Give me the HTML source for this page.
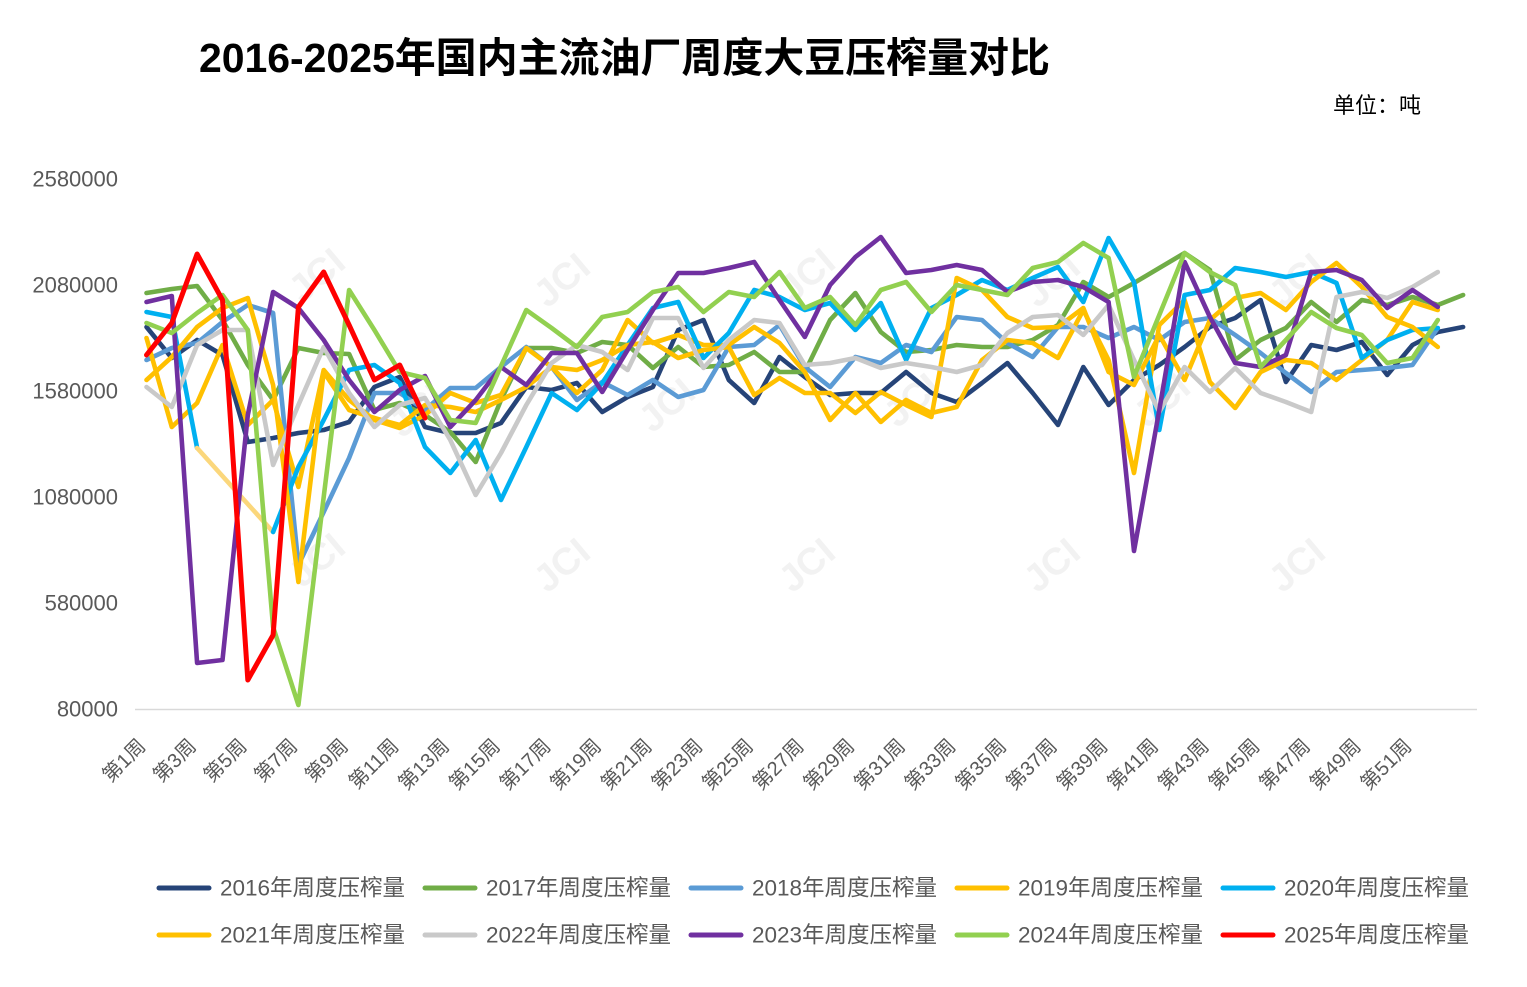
<!DOCTYPE html>
<html>
<head>
<meta charset="utf-8">
<style>
  html,body{margin:0;padding:0;background:#fff;}
  body{width:1527px;height:987px;overflow:hidden;}
  svg{display:block;}
  .t{font-family:"Liberation Sans","Noto Sans CJK SC",sans-serif;}
</style>
</head>
<body>
<svg width="1527" height="987" viewBox="0 0 1527 987" xmlns="http://www.w3.org/2000/svg">
  <rect width="1527" height="987" fill="#fff"/>

  <!-- watermarks -->
  <g class="t" font-size="38" font-weight="bold" fill="#f2f2f2" text-anchor="middle">
    <text transform="translate(325,285) rotate(-40)">JCI</text>
    <text transform="translate(570,290) rotate(-40)">JCI</text>
    <text transform="translate(815,285) rotate(-40)">JCI</text>
    <text transform="translate(1060,290) rotate(-40)">JCI</text>
    <text transform="translate(1305,290) rotate(-40)">JCI</text>
    <text transform="translate(425,420) rotate(-40)">JCI</text>
    <text transform="translate(675,415) rotate(-40)">JCI</text>
    <text transform="translate(920,410) rotate(-40)">JCI</text>
    <text transform="translate(1170,410) rotate(-40)">JCI</text>
    <text transform="translate(325,570) rotate(-40)">JCI</text>
    <text transform="translate(570,575) rotate(-40)">JCI</text>
    <text transform="translate(815,575) rotate(-40)">JCI</text>
    <text transform="translate(1060,575) rotate(-40)">JCI</text>
    <text transform="translate(1305,575) rotate(-40)">JCI</text>
  </g>

  <!-- title -->
  <text class="t" x="199" y="72" font-size="41" font-weight="bold" fill="#000" textLength="851" lengthAdjust="spacing">2016-2025年国内主流油厂周度大豆压榨量对比</text>
  <text class="t" x="1333" y="113" font-size="22" fill="#000">单位：吨</text>

  <!-- y axis labels -->
  <g class="t" font-size="22" fill="#595959" text-anchor="end" dominant-baseline="central">
    <text x="118" y="179">2580000</text>
    <text x="118" y="285">2080000</text>
    <text x="118" y="391">1580000</text>
    <text x="118" y="497">1080000</text>
    <text x="118" y="603">580000</text>
    <text x="118" y="709">80000</text>
  </g>

  <!-- axis line -->
  <line x1="135" y1="709.5" x2="1477" y2="709.5" stroke="#d9d9d9" stroke-width="1.5"/>

  <!-- x labels -->
  <g class="t" font-size="20" fill="#595959" text-anchor="end" dominant-baseline="central">
    <text transform="translate(142.5,743) rotate(-45)">第1周</text>
    <text transform="translate(193.1,743) rotate(-45)">第3周</text>
    <text transform="translate(243.8,743) rotate(-45)">第5周</text>
    <text transform="translate(294.4,743) rotate(-45)">第7周</text>
    <text transform="translate(345.1,743) rotate(-45)">第9周</text>
    <text transform="translate(395.7,743) rotate(-45)">第11周</text>
    <text transform="translate(446.3,743) rotate(-45)">第13周</text>
    <text transform="translate(497.0,743) rotate(-45)">第15周</text>
    <text transform="translate(547.6,743) rotate(-45)">第17周</text>
    <text transform="translate(598.2,743) rotate(-45)">第19周</text>
    <text transform="translate(648.9,743) rotate(-45)">第21周</text>
    <text transform="translate(699.5,743) rotate(-45)">第23周</text>
    <text transform="translate(750.2,743) rotate(-45)">第25周</text>
    <text transform="translate(800.8,743) rotate(-45)">第27周</text>
    <text transform="translate(851.4,743) rotate(-45)">第29周</text>
    <text transform="translate(902.1,743) rotate(-45)">第31周</text>
    <text transform="translate(952.7,743) rotate(-45)">第33周</text>
    <text transform="translate(1003.4,743) rotate(-45)">第35周</text>
    <text transform="translate(1054.0,743) rotate(-45)">第37周</text>
    <text transform="translate(1104.6,743) rotate(-45)">第39周</text>
    <text transform="translate(1155.3,743) rotate(-45)">第41周</text>
    <text transform="translate(1205.9,743) rotate(-45)">第43周</text>
    <text transform="translate(1256.6,743) rotate(-45)">第45周</text>
    <text transform="translate(1307.2,743) rotate(-45)">第47周</text>
    <text transform="translate(1357.8,743) rotate(-45)">第49周</text>
    <text transform="translate(1408.5,743) rotate(-45)">第51周</text>
  </g>

  <!-- series -->
  <g fill="none" stroke-width="4.6" stroke-linejoin="round" stroke-linecap="round">
    <!-- 2016 -->
    <polyline stroke="#264478" points="146.5,327 171.8,358 197.1,340 222.5,355 247.8,442 273.1,438 298.4,433 323.7,430 349.1,422 374.4,387 399.7,377 425.0,427 450.3,433 475.7,433 501.0,423 526.3,387 551.6,390 576.9,383 602.2,412 627.6,397 652.9,387 678.2,330 703.5,320 728.8,380 754.2,403 779.5,357 804.8,377 830.1,395 855.4,393 880.8,393 906.1,372 931.4,393 956.7,402 982.0,383 1007.4,363 1032.7,393 1058.0,425 1083.3,367 1108.6,405 1134.0,380 1159.3,365 1184.6,347 1209.9,327 1235.2,318 1260.6,300 1285.9,382 1311.2,345 1336.5,350 1361.8,342 1387.2,375 1412.5,345 1437.8,332 1463.1,327"/>
    <!-- 2017 -->
    <polyline stroke="#70ad47" points="146.5,293 171.8,289 197.1,286 222.5,320 247.8,365 273.1,400 298.4,348 323.7,353 349.1,354 374.4,410 399.7,403 425.0,415 450.3,432 475.7,462 501.0,400 526.3,348 551.6,348 576.9,353 602.2,342 627.6,345 652.9,368 678.2,347 703.5,367 728.8,365 754.2,352 779.5,372 804.8,372 830.1,320 855.4,293 880.8,332 906.1,352 931.4,350 956.7,345 982.0,347 1007.4,347 1032.7,340 1058.0,325 1083.3,282 1108.6,297 1134.0,283 1159.3,268 1184.6,253 1209.9,270 1235.2,360 1260.6,340 1285.9,328 1311.2,302 1336.5,322 1361.8,300 1387.2,305 1412.5,297 1437.8,305 1463.1,295"/>
    <!-- 2018 -->
    <polyline stroke="#5b9bd5" points="146.5,360 171.8,348 197.1,343 222.5,322 247.8,305 273.1,313 298.4,565 323.7,512 349.1,458 374.4,393 399.7,393 425.0,410 450.3,388 475.7,388 501.0,367 526.3,347 551.6,367 576.9,400 602.2,382 627.6,395 652.9,380 678.2,397 703.5,390 728.8,347 754.2,345 779.5,325 804.8,367 830.1,387 855.4,357 880.8,363 906.1,345 931.4,352 956.7,317 982.0,320 1007.4,343 1032.7,357 1058.0,327 1083.3,327 1108.6,338 1134.0,327 1159.3,340 1184.6,322 1209.9,318 1235.2,335 1260.6,353 1285.9,373 1311.2,392 1336.5,372 1361.8,370 1387.2,368 1412.5,365 1437.8,328"/>
    <!-- 2019 -->
    <polyline stroke="#ffc000" points="146.5,338 171.8,427 197.1,403 222.5,345 247.8,425 273.1,400 298.4,487 323.7,370 349.1,400 374.4,420 399.7,428 425.0,415 450.3,393 475.7,403 501.0,395 526.3,348 551.6,367 576.9,393 602.2,370 627.6,320 652.9,343 678.2,335 703.5,345 728.8,345 754.2,327 779.5,343 804.8,372 830.1,420 855.4,393 880.8,422 906.1,400 931.4,413 956.7,407 982.0,360 1007.4,340 1032.7,343 1058.0,358 1083.3,310 1108.6,360 1134.0,473 1159.3,325 1184.6,300 1209.9,382 1235.2,408 1260.6,372 1285.9,360 1311.2,363 1336.5,380 1361.8,360 1387.2,340 1412.5,302 1437.8,310"/>
    <!-- 2020 -->
    <polyline stroke="#00b0f0" points="146.5,312 171.8,317 197.1,448"/>
    <polyline stroke="#fbd77c" points="197.1,448 273.1,532"/>
    <polyline stroke="#00b0f0" points="273.1,532 298.4,467 323.7,420 349.1,370 374.4,365 399.7,383 425.0,447 450.3,473 475.7,440 501.0,500 526.3,447 551.6,393 576.9,410 602.2,383 627.6,345 652.9,308 678.2,302 703.5,358 728.8,333 754.2,290 779.5,297 804.8,310 830.1,303 855.4,330 880.8,303 906.1,360 931.4,308 956.7,295 982.0,280 1007.4,290 1032.7,278 1058.0,267 1083.3,302 1108.6,238 1134.0,282 1159.3,430 1184.6,295 1209.9,290 1235.2,268 1260.6,272 1285.9,277 1311.2,272 1336.5,283 1361.8,358 1387.2,340 1412.5,330 1437.8,328"/>
    <!-- 2021 -->
    <polyline stroke="#ffc000" points="146.5,380 171.8,357 197.1,327 222.5,308 247.8,298 273.1,385 298.4,582 323.7,372 349.1,410 374.4,418 399.7,425 425.0,405 450.3,407 475.7,412 501.0,400 526.3,387 551.6,367 576.9,370 602.2,360 627.6,345 652.9,342 678.2,358 703.5,350 728.8,347 754.2,395 779.5,378 804.8,393 830.1,393 855.4,413 880.8,392 906.1,405 931.4,417 956.7,278 982.0,290 1007.4,317 1032.7,328 1058.0,327 1083.3,308 1108.6,372 1134.0,385 1159.3,335 1184.6,380 1209.9,320 1235.2,298 1260.6,293 1285.9,310 1311.2,282 1336.5,263 1361.8,287 1387.2,317 1412.5,327 1437.8,347"/>
    <!-- 2022 -->
    <polyline stroke="#c9c9c9" points="146.5,387 171.8,407 197.1,345 222.5,330 247.8,330 273.1,465 298.4,405 323.7,347 349.1,393 374.4,427 399.7,405 425.0,398 450.3,440 475.7,495 501.0,453 526.3,405 551.6,363 576.9,345 602.2,352 627.6,370 652.9,318 678.2,318 703.5,368 728.8,340 754.2,320 779.5,323 804.8,365 830.1,363 855.4,358 880.8,368 906.1,363 931.4,367 956.7,372 982.0,365 1007.4,333 1032.7,317 1058.0,315 1083.3,335 1108.6,305 1134.0,360 1159.3,412 1184.6,367 1209.9,392 1235.2,368 1260.6,393 1285.9,402 1311.2,412 1336.5,297 1361.8,292 1387.2,298 1412.5,287 1437.8,272"/>
    <!-- 2023 -->
    <polyline stroke="#7030a0" points="146.5,302 171.8,296 197.1,663 222.5,660 247.8,415 273.1,292 298.4,308 323.7,340 349.1,380 374.4,412 399.7,390 425.0,376 450.3,427 475.7,400 501.0,367 526.3,385 551.6,353 576.9,353 602.2,392 627.6,350 652.9,310 678.2,273 703.5,273 728.8,268 754.2,262 779.5,300 804.8,337 830.1,285 855.4,257 880.8,237 906.1,273 931.4,270 956.7,265 982.0,270 1007.4,292 1032.7,282 1058.0,280 1083.3,287 1108.6,302 1134.0,551 1159.3,410 1184.6,262 1209.9,317 1235.2,363 1260.6,367 1285.9,355 1311.2,272 1336.5,270 1361.8,280 1387.2,308 1412.5,290 1437.8,307"/>
    <!-- 2024 -->
    <polyline stroke="#92d050" points="146.5,323 171.8,333 197.1,313 222.5,295 247.8,330 273.1,627 298.4,705 323.7,497 349.1,290 374.4,330 399.7,372 425.0,378 450.3,420 475.7,423 501.0,366 526.3,310 551.6,328 576.9,347 602.2,317 627.6,312 652.9,292 678.2,287 703.5,312 728.8,292 754.2,297 779.5,272 804.8,308 830.1,297 855.4,325 880.8,290 906.1,282 931.4,312 956.7,285 982.0,290 1007.4,295 1032.7,268 1058.0,262 1083.3,243 1108.6,258 1134.0,377 1159.3,315 1184.6,253 1209.9,272 1235.2,285 1260.6,367 1285.9,340 1311.2,312 1336.5,328 1361.8,335 1387.2,363 1412.5,358 1437.8,320"/>
    <!-- 2025 -->
    <polyline stroke="#ff0000" stroke-width="5" points="146.5,355 171.8,323 197.1,254 222.5,300 247.8,680 273.1,635 298.4,307 323.7,272 349.1,325 374.4,380 399.7,365 425.0,418"/>
  </g>

  <!-- legend -->
  <g stroke-width="5" stroke-linecap="round">
    <line x1="159" y1="888" x2="209" y2="888" stroke="#264478"/>
    <line x1="425" y1="888" x2="475" y2="888" stroke="#70ad47"/>
    <line x1="691" y1="888" x2="741" y2="888" stroke="#5b9bd5"/>
    <line x1="957" y1="888" x2="1007" y2="888" stroke="#ffc000"/>
    <line x1="1223" y1="888" x2="1273" y2="888" stroke="#00b0f0"/>
    <line x1="159" y1="935" x2="209" y2="935" stroke="#ffc000"/>
    <line x1="425" y1="935" x2="475" y2="935" stroke="#c9c9c9"/>
    <line x1="691" y1="935" x2="741" y2="935" stroke="#7030a0"/>
    <line x1="957" y1="935" x2="1007" y2="935" stroke="#92d050"/>
    <line x1="1223" y1="935" x2="1273" y2="935" stroke="#ff0000"/>
  </g>
  <g class="t" font-size="22.5" fill="#595959" dominant-baseline="central">
    <text x="220" y="888" textLength="185" lengthAdjust="spacing">2016年周度压榨量</text>
    <text x="486" y="888" textLength="185" lengthAdjust="spacing">2017年周度压榨量</text>
    <text x="752" y="888" textLength="185" lengthAdjust="spacing">2018年周度压榨量</text>
    <text x="1018" y="888" textLength="185" lengthAdjust="spacing">2019年周度压榨量</text>
    <text x="1284" y="888" textLength="185" lengthAdjust="spacing">2020年周度压榨量</text>
    <text x="220" y="935" textLength="185" lengthAdjust="spacing">2021年周度压榨量</text>
    <text x="486" y="935" textLength="185" lengthAdjust="spacing">2022年周度压榨量</text>
    <text x="752" y="935" textLength="185" lengthAdjust="spacing">2023年周度压榨量</text>
    <text x="1018" y="935" textLength="185" lengthAdjust="spacing">2024年周度压榨量</text>
    <text x="1284" y="935" textLength="185" lengthAdjust="spacing">2025年周度压榨量</text>
  </g>
</svg>
</body>
</html>
